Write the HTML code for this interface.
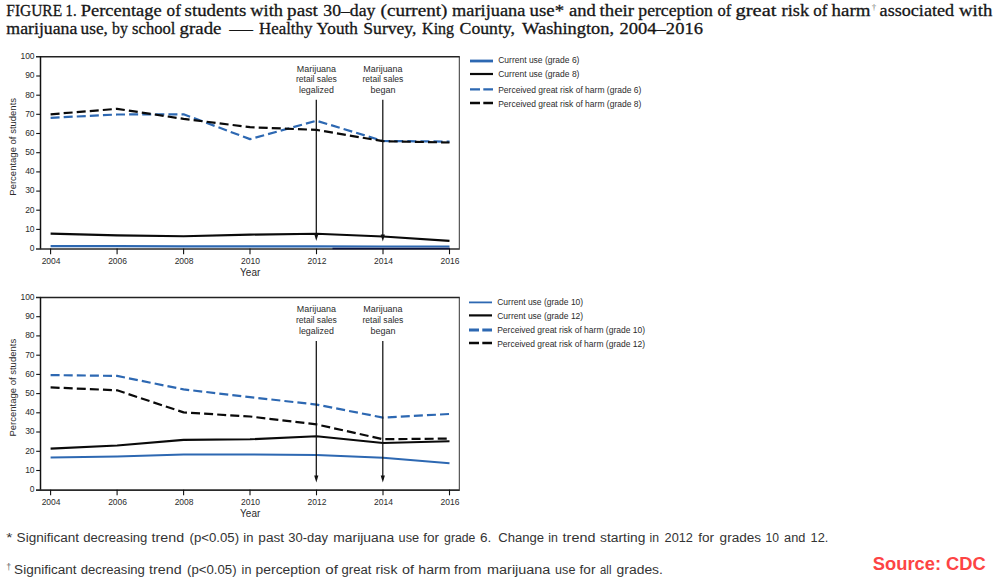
<!DOCTYPE html>
<html><head><meta charset="utf-8"><title>FIGURE 1</title>
<style>html,body{margin:0;padding:0;background:#fff;}body{width:1000px;height:585px;overflow:hidden;font-family:"Liberation Sans",sans-serif;}svg{display:block;}.t{font-family:"Liberation Serif",serif;font-size:17.2px;fill:#161616;stroke:#161616;stroke-width:0.3px;}.f{font-family:"Liberation Sans",sans-serif;font-size:13.7px;fill:#333;}.a{font-family:"Liberation Sans",sans-serif;font-size:8.5px;fill:#2b2b2b;}.y{font-family:"Liberation Sans",sans-serif;font-size:9.5px;fill:#2b2b2b;}</style></head><body>
<svg width="1000" height="585" viewBox="0 0 1000 585">
<rect width="1000" height="585" fill="#fff"/>
<text class="t" x="6.3" y="16" textLength="55.8" lengthAdjust="spacingAndGlyphs">FIGURE</text>
<text class="t" x="65.6" y="16" textLength="11.0" lengthAdjust="spacingAndGlyphs">1.</text>
<text class="t" x="80.8" y="16" textLength="80.8" lengthAdjust="spacingAndGlyphs">Percentage</text>
<text class="t" x="166.6" y="16" textLength="14.3" lengthAdjust="spacingAndGlyphs">of</text>
<text class="t" x="184.6" y="16" textLength="61.8" lengthAdjust="spacingAndGlyphs">students</text>
<text class="t" x="250.3" y="16" textLength="32.6" lengthAdjust="spacingAndGlyphs">with</text>
<text class="t" x="287.1" y="16" textLength="30.8" lengthAdjust="spacingAndGlyphs">past</text>
<text class="t" x="323.3" y="16" textLength="52.1" lengthAdjust="spacingAndGlyphs">30–day</text>
<text class="t" x="380.6" y="16" textLength="66.8" lengthAdjust="spacingAndGlyphs">(current)</text>
<text class="t" x="452.1" y="16" textLength="73.3" lengthAdjust="spacingAndGlyphs">marijuana</text>
<text class="t" x="529.6" y="16" textLength="34.5" lengthAdjust="spacingAndGlyphs">use*</text>
<text class="t" x="569.1" y="16" textLength="26.8" lengthAdjust="spacingAndGlyphs">and</text>
<text class="t" x="599.6" y="16" textLength="34.5" lengthAdjust="spacingAndGlyphs">their</text>
<text class="t" x="638.3" y="16" textLength="74.6" lengthAdjust="spacingAndGlyphs">perception</text>
<text class="t" x="717.6" y="16" textLength="13.8" lengthAdjust="spacingAndGlyphs">of</text>
<text class="t" x="735.6" y="16" textLength="40.8" lengthAdjust="spacingAndGlyphs">great</text>
<text class="t" x="781.6" y="16" textLength="27.5" lengthAdjust="spacingAndGlyphs">risk</text>
<text class="t" x="813.3" y="16" textLength="14.1" lengthAdjust="spacingAndGlyphs">of</text>
<text class="t" x="831.6" y="16" textLength="38.8" lengthAdjust="spacingAndGlyphs">harm</text>
<text class="t" x="879.6" y="16" textLength="74.5" lengthAdjust="spacingAndGlyphs">associated</text>
<text class="t" x="959.1" y="16" textLength="33.3" lengthAdjust="spacingAndGlyphs">with</text>
<text class="t" x="6.3" y="34.4" textLength="71.1" lengthAdjust="spacingAndGlyphs">marijuana</text>
<text class="t" x="80.6" y="34.4" textLength="27.3" lengthAdjust="spacingAndGlyphs">use,</text>
<text class="t" x="112.1" y="34.4" textLength="15.8" lengthAdjust="spacingAndGlyphs">by</text>
<text class="t" x="132.1" y="34.4" textLength="43.3" lengthAdjust="spacingAndGlyphs">school</text>
<text class="t" x="179.6" y="34.4" textLength="41.8" lengthAdjust="spacingAndGlyphs">grade</text>
<text class="t" x="229.6" y="34.4" textLength="23.3" lengthAdjust="spacingAndGlyphs">—</text>
<text class="t" x="259.1" y="34.4" textLength="53.3" lengthAdjust="spacingAndGlyphs">Healthy</text>
<text class="t" x="316.6" y="34.4" textLength="41.3" lengthAdjust="spacingAndGlyphs">Youth</text>
<text class="t" x="363.3" y="34.4" textLength="53.1" lengthAdjust="spacingAndGlyphs">Survey,</text>
<text class="t" x="422.1" y="34.4" textLength="32.0" lengthAdjust="spacingAndGlyphs">King</text>
<text class="t" x="459.6" y="34.4" textLength="55.3" lengthAdjust="spacingAndGlyphs">County,</text>
<text class="t" x="522.1" y="34.4" textLength="92.0" lengthAdjust="spacingAndGlyphs">Washington,</text>
<text class="t" x="619.6" y="34.4" textLength="83.3" lengthAdjust="spacingAndGlyphs">2004–2016</text>
<text x="871.8" y="9.5" style="font-family:'Liberation Serif',serif;font-size:9px;fill:#777">†</text>
<g fill="none" stroke-linecap="butt">
<path d="M36,56.8 H459.8" stroke="#222" stroke-width="1.4"/>
<path d="M459.3,56.8 V248.6" stroke="#333" stroke-width="1"/>
<polyline points="50.6,117.8 117.1,114.5 183.6,114.3 250.0,139.1 316.5,120.7 383.0,141.0 449.5,141.6" stroke="#2d68b2" stroke-width="2.2" stroke-linejoin="round" stroke-dasharray="9 4.1"/>
<polyline points="50.6,114.3 117.1,108.8 183.6,118.9 250.0,127.2 316.5,129.9 383.0,141.2 449.5,142.5" stroke="#0a0a0a" stroke-width="2.2" stroke-linejoin="round" stroke-dasharray="9 4.1"/>
<polyline points="50.6,246.1 117.1,246.1 183.6,246.3 250.0,246.4 316.5,246.4 383.0,246.5 449.5,246.5" stroke="#2d68b2" stroke-width="2.2" stroke-linejoin="round"/>
<polyline points="50.6,233.6 117.1,235.4 183.6,236.3 250.0,234.6 316.5,233.8 383.0,236.5 449.5,240.9" stroke="#0a0a0a" stroke-width="2.15" stroke-linejoin="round"/>
<path d="M40.5,56.199999999999996 V249.29999999999998" stroke="#111" stroke-width="1.5"/>
<path d="M36,249.0 H459.8" stroke="#2a2a2a" stroke-width="1.6"/>
<path d="M332.5,248.5 H449.8" stroke="#0d1440" stroke-width="1.5"/>
<path d="M36.2,229.4 H40.5" stroke="#111" stroke-width="1.1"/>
<path d="M36.2,210.2 H40.5" stroke="#111" stroke-width="1.1"/>
<path d="M36.2,191.1 H40.5" stroke="#111" stroke-width="1.1"/>
<path d="M36.2,171.9 H40.5" stroke="#111" stroke-width="1.1"/>
<path d="M36.2,152.7 H40.5" stroke="#111" stroke-width="1.1"/>
<path d="M36.2,133.5 H40.5" stroke="#111" stroke-width="1.1"/>
<path d="M36.2,114.3 H40.5" stroke="#111" stroke-width="1.1"/>
<path d="M36.2,95.2 H40.5" stroke="#111" stroke-width="1.1"/>
<path d="M36.2,76.0 H40.5" stroke="#111" stroke-width="1.1"/>
<path d="M50.6,248.6 V254.2" stroke="#111" stroke-width="1.1"/>
<path d="M117.1,248.6 V254.2" stroke="#111" stroke-width="1.1"/>
<path d="M183.6,248.6 V254.2" stroke="#111" stroke-width="1.1"/>
<path d="M250.0,248.6 V254.2" stroke="#111" stroke-width="1.1"/>
<path d="M316.5,248.6 V254.2" stroke="#111" stroke-width="1.1"/>
<path d="M383.0,248.6 V254.2" stroke="#111" stroke-width="1.1"/>
<path d="M449.5,248.6 V254.2" stroke="#111" stroke-width="1.1"/>
<path d="M316.3,99.8 V237.0" stroke="#111" stroke-width="1.25"/>
<path d="M314.2,234.0 L316.3,241.0 L318.4,234.0 Z" fill="#111" stroke="none"/>
<path d="M382.8,99.8 V237.5" stroke="#111" stroke-width="1.25"/>
<path d="M380.7,234.5 L382.8,241.5 L384.9,234.5 Z" fill="#111" stroke="none"/>
</g>
<text class="a" x="34.6" y="250.9" text-anchor="end">0</text>
<text class="a" x="34.6" y="231.7" text-anchor="end">10</text>
<text class="a" x="34.6" y="212.5" text-anchor="end">20</text>
<text class="a" x="34.6" y="193.4" text-anchor="end">30</text>
<text class="a" x="34.6" y="174.2" text-anchor="end">40</text>
<text class="a" x="34.6" y="155.0" text-anchor="end">50</text>
<text class="a" x="34.6" y="135.8" text-anchor="end">60</text>
<text class="a" x="34.6" y="116.6" text-anchor="end">70</text>
<text class="a" x="34.6" y="97.5" text-anchor="end">80</text>
<text class="a" x="34.6" y="78.3" text-anchor="end">90</text>
<text class="a" x="34.6" y="59.1" text-anchor="end">100</text>
<text class="a" x="51.1" y="263.8" text-anchor="middle">2004</text>
<text class="a" x="117.6" y="263.8" text-anchor="middle">2006</text>
<text class="a" x="184.1" y="263.8" text-anchor="middle">2008</text>
<text class="a" x="250.5" y="263.8" text-anchor="middle">2010</text>
<text class="a" x="317.0" y="263.8" text-anchor="middle">2012</text>
<text class="a" x="383.5" y="263.8" text-anchor="middle">2014</text>
<text class="a" x="450.0" y="263.8" text-anchor="middle">2016</text>
<text class="y" x="240.1" y="276.2" style="font-size:10px" textLength="20.2" lengthAdjust="spacingAndGlyphs">Year</text>
<text class="y" transform="translate(16.4,146.8) rotate(-90)" text-anchor="middle">Percentage of students</text>
<text class="a" x="296.8" y="71.6" textLength="39.2" lengthAdjust="spacingAndGlyphs">Marijuana</text>
<text class="a" x="295.9" y="82.2" textLength="41.0" lengthAdjust="spacingAndGlyphs">retail sales</text>
<text class="a" x="299.0" y="92.8" textLength="34.8" lengthAdjust="spacingAndGlyphs">legalized</text>
<text class="a" x="363.3" y="71.6" textLength="39.2" lengthAdjust="spacingAndGlyphs">Marijuana</text>
<text class="a" x="362.4" y="82.2" textLength="41.0" lengthAdjust="spacingAndGlyphs">retail sales</text>
<text class="a" x="370.4" y="92.8" textLength="25.0" lengthAdjust="spacingAndGlyphs">began</text>
<path d="M470,61 h23" stroke="#2d68b2" stroke-width="2.8" fill="none"/>
<text class="a" x="498.2" y="62.8">Current use (grade 6)</text>
<path d="M470,74 h23" stroke="#0a0a0a" stroke-width="2.2" fill="none"/>
<text class="a" x="498.2" y="76.8">Current use (grade 8)</text>
<path d="M470,89.4 h23" stroke="#2d68b2" stroke-width="2.4" fill="none" stroke-dasharray="10 3.3"/>
<text class="a" x="498.2" y="93.0">Perceived great risk of harm (grade 6)</text>
<path d="M470,103 h23" stroke="#0a0a0a" stroke-width="2.4" fill="none" stroke-dasharray="10 3.3"/>
<text class="a" x="498.2" y="107.3">Perceived great risk of harm (grade 8)</text>
<g fill="none" stroke-linecap="butt">
<path d="M36,297.5 H459.8" stroke="#222" stroke-width="1.4"/>
<path d="M459.3,297.5 V489.7" stroke="#333" stroke-width="1"/>
<polyline points="50.6,375.1 117.1,375.9 183.6,389.4 250.0,397.1 316.5,404.6 383.0,417.6 449.5,414.0" stroke="#2d68b2" stroke-width="2.2" stroke-linejoin="round" stroke-dasharray="9 4.1"/>
<polyline points="50.6,387.4 117.1,390.3 183.6,412.4 250.0,416.5 316.5,424.4 383.0,439.2 449.5,438.6" stroke="#0a0a0a" stroke-width="2.2" stroke-linejoin="round" stroke-dasharray="9 4.1"/>
<polyline points="50.6,457.6 117.1,456.6 183.6,454.5 250.0,454.5 316.5,455.1 383.0,457.8 449.5,463.2" stroke="#2d68b2" stroke-width="2.05" stroke-linejoin="round"/>
<polyline points="50.6,448.6 117.1,445.5 183.6,439.9 250.0,439.3 316.5,436.3 383.0,443.0 449.5,441.3" stroke="#0a0a0a" stroke-width="2.15" stroke-linejoin="round"/>
<path d="M40.5,296.9 V490.4" stroke="#111" stroke-width="1.5"/>
<path d="M36,490.09999999999997 H459.8" stroke="#2a2a2a" stroke-width="1.6"/>
<path d="M36.2,470.5 H40.5" stroke="#111" stroke-width="1.1"/>
<path d="M36.2,451.3 H40.5" stroke="#111" stroke-width="1.1"/>
<path d="M36.2,432.0 H40.5" stroke="#111" stroke-width="1.1"/>
<path d="M36.2,412.8 H40.5" stroke="#111" stroke-width="1.1"/>
<path d="M36.2,393.6 H40.5" stroke="#111" stroke-width="1.1"/>
<path d="M36.2,374.4 H40.5" stroke="#111" stroke-width="1.1"/>
<path d="M36.2,355.2 H40.5" stroke="#111" stroke-width="1.1"/>
<path d="M36.2,335.9 H40.5" stroke="#111" stroke-width="1.1"/>
<path d="M36.2,316.7 H40.5" stroke="#111" stroke-width="1.1"/>
<path d="M50.6,489.7 V495.3" stroke="#111" stroke-width="1.1"/>
<path d="M117.1,489.7 V495.3" stroke="#111" stroke-width="1.1"/>
<path d="M183.6,489.7 V495.3" stroke="#111" stroke-width="1.1"/>
<path d="M250.0,489.7 V495.3" stroke="#111" stroke-width="1.1"/>
<path d="M316.5,489.7 V495.3" stroke="#111" stroke-width="1.1"/>
<path d="M383.0,489.7 V495.3" stroke="#111" stroke-width="1.1"/>
<path d="M449.5,489.7 V495.3" stroke="#111" stroke-width="1.1"/>
<path d="M316.3,341.0 V478.6" stroke="#111" stroke-width="1.25"/>
<path d="M314.2,475.6 L316.3,482.6 L318.4,475.6 Z" fill="#111" stroke="none"/>
<path d="M382.8,341.0 V478.6" stroke="#111" stroke-width="1.25"/>
<path d="M380.7,475.6 L382.8,482.6 L384.9,475.6 Z" fill="#111" stroke="none"/>
</g>
<text class="a" x="34.6" y="492.0" text-anchor="end">0</text>
<text class="a" x="34.6" y="472.8" text-anchor="end">10</text>
<text class="a" x="34.6" y="453.6" text-anchor="end">20</text>
<text class="a" x="34.6" y="434.3" text-anchor="end">30</text>
<text class="a" x="34.6" y="415.1" text-anchor="end">40</text>
<text class="a" x="34.6" y="395.9" text-anchor="end">50</text>
<text class="a" x="34.6" y="376.7" text-anchor="end">60</text>
<text class="a" x="34.6" y="357.5" text-anchor="end">70</text>
<text class="a" x="34.6" y="338.2" text-anchor="end">80</text>
<text class="a" x="34.6" y="319.0" text-anchor="end">90</text>
<text class="a" x="34.6" y="299.8" text-anchor="end">100</text>
<text class="a" x="51.1" y="504.9" text-anchor="middle">2004</text>
<text class="a" x="117.6" y="504.9" text-anchor="middle">2006</text>
<text class="a" x="184.1" y="504.9" text-anchor="middle">2008</text>
<text class="a" x="250.5" y="504.9" text-anchor="middle">2010</text>
<text class="a" x="317.0" y="504.9" text-anchor="middle">2012</text>
<text class="a" x="383.5" y="504.9" text-anchor="middle">2014</text>
<text class="a" x="450.0" y="504.9" text-anchor="middle">2016</text>
<text class="y" x="240.1" y="517.3" style="font-size:10px" textLength="20.2" lengthAdjust="spacingAndGlyphs">Year</text>
<text class="y" transform="translate(16.4,387.7) rotate(-90)" text-anchor="middle">Percentage of students</text>
<text class="a" x="296.8" y="312.3" textLength="39.2" lengthAdjust="spacingAndGlyphs">Marijuana</text>
<text class="a" x="295.9" y="322.9" textLength="41.0" lengthAdjust="spacingAndGlyphs">retail sales</text>
<text class="a" x="299.0" y="333.5" textLength="34.8" lengthAdjust="spacingAndGlyphs">legalized</text>
<text class="a" x="363.3" y="312.3" textLength="39.2" lengthAdjust="spacingAndGlyphs">Marijuana</text>
<text class="a" x="362.4" y="322.9" textLength="41.0" lengthAdjust="spacingAndGlyphs">retail sales</text>
<text class="a" x="370.4" y="333.5" textLength="25.0" lengthAdjust="spacingAndGlyphs">began</text>
<path d="M469,302.4 h23" stroke="#2d68b2" stroke-width="1.8" fill="none"/>
<text class="a" x="497.2" y="305.3">Current use (grade 10)</text>
<path d="M469,315.4 h23" stroke="#0a0a0a" stroke-width="2.2" fill="none"/>
<text class="a" x="497.2" y="319.3">Current use (grade 12)</text>
<path d="M469,330 h23" stroke="#2d68b2" stroke-width="2.8" fill="none" stroke-dasharray="10 3.3"/>
<text class="a" x="497.2" y="333">Perceived great risk of harm (grade 10)</text>
<path d="M469,343 h23" stroke="#0a0a0a" stroke-width="2.4" fill="none" stroke-dasharray="10 3.3"/>
<text class="a" x="497.2" y="347.3">Perceived great risk of harm (grade 12)</text>
<text class="f" x="6.3" y="541.6" textLength="6.1" lengthAdjust="spacingAndGlyphs">*</text>
<text class="f" x="16.6" y="541.6" textLength="62.5" lengthAdjust="spacingAndGlyphs">Significant</text>
<text class="f" x="83.3" y="541.6" textLength="64.1" lengthAdjust="spacingAndGlyphs">decreasing</text>
<text class="f" x="151.6" y="541.6" textLength="32.5" lengthAdjust="spacingAndGlyphs">trend</text>
<text class="f" x="189.6" y="541.6" textLength="49.5" lengthAdjust="spacingAndGlyphs">(p&lt;0.05)</text>
<text class="f" x="243.3" y="541.6" textLength="10.1" lengthAdjust="spacingAndGlyphs">in</text>
<text class="f" x="258.3" y="541.6" textLength="25.8" lengthAdjust="spacingAndGlyphs">past</text>
<text class="f" x="288.3" y="541.6" textLength="39.6" lengthAdjust="spacingAndGlyphs">30-day</text>
<text class="f" x="333.3" y="541.6" textLength="60.8" lengthAdjust="spacingAndGlyphs">marijuana</text>
<text class="f" x="398.6" y="541.6" textLength="20.5" lengthAdjust="spacingAndGlyphs">use</text>
<text class="f" x="423.3" y="541.6" textLength="15.8" lengthAdjust="spacingAndGlyphs">for</text>
<text class="f" x="444.1" y="541.6" textLength="31.3" lengthAdjust="spacingAndGlyphs">grade</text>
<text class="f" x="480.1" y="541.6" textLength="11.3" lengthAdjust="spacingAndGlyphs">6.</text>
<text class="f" x="498.3" y="541.6" textLength="45.8" lengthAdjust="spacingAndGlyphs">Change</text>
<text class="f" x="548.3" y="541.6" textLength="9.6" lengthAdjust="spacingAndGlyphs">in</text>
<text class="f" x="562.6" y="541.6" textLength="32.8" lengthAdjust="spacingAndGlyphs">trend</text>
<text class="f" x="600.1" y="541.6" textLength="45.3" lengthAdjust="spacingAndGlyphs">starting</text>
<text class="f" x="649.6" y="541.6" textLength="9.5" lengthAdjust="spacingAndGlyphs">in</text>
<text class="f" x="664.6" y="541.6" textLength="28.3" lengthAdjust="spacingAndGlyphs">2012</text>
<text class="f" x="698.3" y="541.6" textLength="15.8" lengthAdjust="spacingAndGlyphs">for</text>
<text class="f" x="719.6" y="541.6" textLength="41.5" lengthAdjust="spacingAndGlyphs">grades</text>
<text class="f" x="765.6" y="541.6" textLength="13.5" lengthAdjust="spacingAndGlyphs">10</text>
<text class="f" x="784.1" y="541.6" textLength="21.3" lengthAdjust="spacingAndGlyphs">and</text>
<text class="f" x="810.6" y="541.6" textLength="17.8" lengthAdjust="spacingAndGlyphs">12.</text>
<text class="f" x="14.1" y="573.8" textLength="62.5" lengthAdjust="spacingAndGlyphs">Significant</text>
<text class="f" x="80.8" y="573.8" textLength="64.1" lengthAdjust="spacingAndGlyphs">decreasing</text>
<text class="f" x="149.1" y="573.8" textLength="32.5" lengthAdjust="spacingAndGlyphs">trend</text>
<text class="f" x="187.1" y="573.8" textLength="49.5" lengthAdjust="spacingAndGlyphs">(p&lt;0.05)</text>
<text class="f" x="241.6" y="573.8" textLength="9.8" lengthAdjust="spacingAndGlyphs">in</text>
<text class="f" x="255.6" y="573.8" textLength="64.8" lengthAdjust="spacingAndGlyphs">perception</text>
<text class="f" x="325.3" y="573.8" textLength="12.6" lengthAdjust="spacingAndGlyphs">of</text>
<text class="f" x="341.6" y="573.8" textLength="29.8" lengthAdjust="spacingAndGlyphs">great</text>
<text class="f" x="375.6" y="573.8" textLength="21.8" lengthAdjust="spacingAndGlyphs">risk</text>
<text class="f" x="402.1" y="573.8" textLength="12.0" lengthAdjust="spacingAndGlyphs">of</text>
<text class="f" x="418.3" y="573.8" textLength="32.1" lengthAdjust="spacingAndGlyphs">harm</text>
<text class="f" x="454.1" y="573.8" textLength="27.3" lengthAdjust="spacingAndGlyphs">from</text>
<text class="f" x="487.1" y="573.8" textLength="63.3" lengthAdjust="spacingAndGlyphs">marijuana</text>
<text class="f" x="555.1" y="573.8" textLength="20.3" lengthAdjust="spacingAndGlyphs">use</text>
<text class="f" x="579.6" y="573.8" textLength="15.8" lengthAdjust="spacingAndGlyphs">for</text>
<text class="f" x="600.1" y="573.8" textLength="11.3" lengthAdjust="spacingAndGlyphs">all</text>
<text class="f" x="616.6" y="573.8" textLength="46.3" lengthAdjust="spacingAndGlyphs">grades.</text>
<text x="6.3" y="570.3" style="font-family:'Liberation Sans',sans-serif;font-size:9px;fill:#666">†</text>
<text x="872.8" y="569.8" textLength="113" lengthAdjust="spacingAndGlyphs" style="font-family:'Liberation Sans',sans-serif;font-size:18px;font-weight:bold;fill:#fd4444">Source: CDC</text>
</svg></body></html>
